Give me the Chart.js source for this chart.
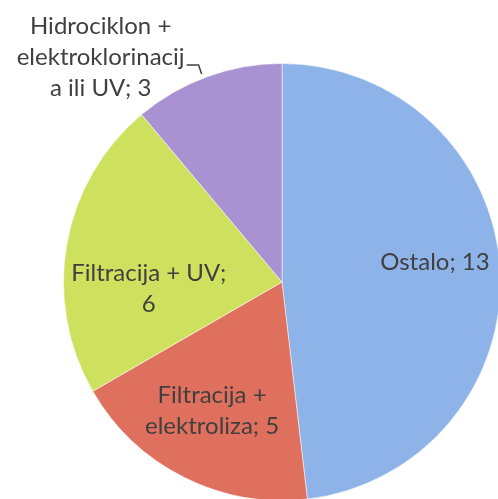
<!DOCTYPE html>
<html>
<head>
<meta charset="utf-8">
<script src="https://cdn.jsdelivr.net/npm/chart.js@4"></script>
<style>
  html, body { margin: 0; padding: 0; background: #ffffff; overflow: hidden; }
  #wrap { position: absolute; left: 0; top: 0; width: 564px; height: 564px; }
</style>
</head>
<body>
<div id="wrap"><canvas id="pieChart" width="564" height="564"></canvas></div>
<script>
// chart data
const categories = [
  ["Ostalo; 13"],
  ["Filtracija +", "elektroliza; 5"],
  ["Filtracija + UV;", "6"],
  ["Hidrociklon +", "elektroklorinacij", "a ili UV; 3"]
];
const values = [13, 5, 6, 3];

const sliceColors = ["#8db3e9", "#e0705e", "#cde15e", "#a992d2"];

// label centres, as fractions of the radius from the pie centre
const labelSpots = [
  { x: 0.70, y: -0.09 },
  { x: -0.32, y: 0.59 },
  { x: -0.61, y: 0.03 },
  { x: -0.83, y: -1.03, leader: true }
];

const sliceLabels = {
  id: "sliceLabels",
  afterDatasetsDraw(chart) {
    const ctx = chart.ctx;
    const meta = chart.getDatasetMeta(0);
    ctx.save();
    ctx.font = "24px Lato";
    ctx.fillStyle = "#404040";
    ctx.textAlign = "center";
    ctx.textBaseline = "middle";
    const lineH = 31;
    meta.data.forEach((arc, i) => {
      const r = arc.outerRadius;
      const cx = arc.x + labelSpots[i].x * r;
      const cy = arc.y + labelSpots[i].y * r;
      const lines = categories[i];
      const top = cy - (lines.length - 1) * lineH / 2;
      lines.forEach((t, j) => ctx.fillText(t, cx, top + j * lineH));

      if (labelSpots[i].leader) {
        // small elbow from the middle line to the slice edge
        const w = ctx.measureText(lines[1]).width;
        const lx = cx + w / 2 + 2;
        const ly = cy + 8;
        ctx.strokeStyle = "#404040";
        ctx.lineWidth = 1.5;
        ctx.beginPath();
        ctx.moveTo(lx, ly);
        ctx.lineTo(lx + 12, ly);
        ctx.lineTo(lx + 15, ly + 9);
        ctx.stroke();
      }
    });
    ctx.restore();
  }
};

new Chart(document.getElementById("pieChart"), {
  type: "pie",
  data: {
    labels: categories.map(c => c.join(" ")),
    datasets: [{
      data: values,
      backgroundColor: sliceColors,
      borderColor: "rgba(255,255,255,0.5)",
      borderWidth: 1
    }]
  },
  options: {
    responsive: false,
    animation: false,
    layout: { padding: 63 },
    plugins: {
      legend: { display: false },
      tooltip: { enabled: false }
    }
  },
  plugins: [sliceLabels]
});
</script>
</body>
</html>
